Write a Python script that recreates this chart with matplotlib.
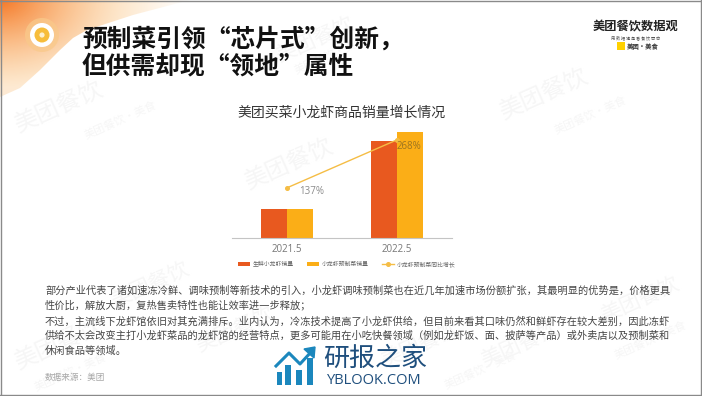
import numpy as np
import matplotlib
matplotlib.use('Agg')
import matplotlib.pyplot as plt
from matplotlib.patches import Circle, PathPatch, Rectangle
from matplotlib.path import Path

plt.rcParams['font.family'] = ['Noto Sans CJK SC', 'DejaVu Sans']
W, H = 702, 396

# ---- data ----
categories = ['2021.5', '2022.5']
fresh_sales = [29, 97]
prepared_sales = [29, 106]
yoy_growth = [137, 268]
yoy_labels = ['137%', '268%']
series_names = ['生鲜小龙虾销量', '小龙虾预制菜销量', '小龙虾预制菜同比增长']
chart_title = '美团买菜小龙虾商品销量增长情况'
title_lines = ['预制菜引领“芯片式”创新，', '但供需却现“领地”属性']
body_lines = [
    '部分产业代表了诸如速冻冷鲜、调味预制等新技术的引入，小龙虾调味预制菜也在近几年加速市场份额扩张，其最明显的优势是，价格更具',
    '性价比，解放大厨，复热售卖特性也能让效率进一步释放；',
    '不过，主流线下龙虾馆依旧对其充满排斥。业内认为，冷冻技术提高了小龙虾供给，但目前来看其口味仍然和鲜虾存在较大差别，因此冻虾',
    '供给不太会改变主打小龙虾菜品的龙虾馆的经营特点，更多可能用在小吃快餐领域（例如龙虾饭、面、披萨等产品）或外卖店以及预制菜和',
    '休闲食品等领域。',
]
source_text = '数据来源：美团'

RED, AMBER, LINE = '#e8591f', '#fbae17', '#f5bd45'

fig = plt.figure(figsize=(W / 100, H / 100), dpi=100, facecolor='white')

# ---- page layer, in pixel coordinates ----
bg = fig.add_axes([0, 0, 1, 1])
bg.set_xlim(0, W)
bg.set_ylim(H, 0)
bg.axis('off')

# corner gradient, clipped by the sweeping curve
yy, xx = np.mgrid[0:130, 0:220]
d = np.sqrt((xx / 195.0) ** 2 + ((yy + 2) / 135.0) ** 2)
a = np.clip(1 - d, 0, 1) ** 1.25
a = np.where(xx < 40, np.maximum(a, 0.26), a)
t = np.clip(d * 1.6, 0, 1)[..., None]
rgb = (1 - t) * np.array([0.96, 0.46, 0.14]) + t * np.array([0.98, 0.68, 0.32])
img = np.dstack([rgb, a])
im = bg.imshow(img, extent=(0, 220, 130, 0), aspect='auto', zorder=1)
verts = [(0, 0), (190, 0), (133, 15), (87, 30), (73, 38), (60, 50), (40, 70), (20, 88), (0, 97), (0, 0)]
clip = PathPatch(Path(verts), transform=bg.transData, fc='none', ec='none')
bg.add_patch(clip)
im.set_clip_path(clip)
bg.set_xlim(0, W)
bg.set_ylim(H, 0)

# watermarks
for x, y, s in [(60, 108, 17), (60, 345, 17), (545, 95, 17), (315, 40, 15), (290, 165, 17),
                (420, 345, 15), (520, 345, 15), (235, 330, 15), (640, 300, 15), (150, 285, 15)]:
    bg.text(x, y, '美团餐饮', fontsize=s, color='#f6f6f6', rotation=24,
            ha='center', va='center', zorder=1.5)
for x, y in [(120, 120), (590, 115), (330, 55), (480, 370), (70, 372), (650, 340)]:
    bg.text(x, y, '美团餐饮·美食', fontsize=8, color='#f6f6f6', rotation=24,
            ha='center', va='center', zorder=1.5)

# round icon
bg.add_patch(Circle((42, 35), 17, fc='#f9c98a', ec='none', alpha=0.75, zorder=2))
bg.add_patch(Circle((42, 35), 12, fc='white', ec='none', zorder=2.1))
bg.add_patch(Circle((42, 35), 7.5, fc='#f7bd3a', ec='none', zorder=2.2))
bg.add_patch(Circle((42, 35), 2.6, fc='#fdf0cf', ec='none', zorder=2.3))

# heading
for line, y in zip(title_lines, [39, 66]):
    bg.text(82, y, line, fontsize=17.8, fontweight='bold', color='#111111', va='center', ha='left', zorder=3)

# brand block
bg.text(635.5, 27, '美团餐饮数据观', fontsize=8.8, fontweight='bold', color='#222222', ha='center', va='center', zorder=3)
bg.text(636, 37.5, '用 数 据 视 角 看 餐 饮 百 态', fontsize=3, color='#555555', ha='center', va='center', zorder=3)
bg.add_patch(Rectangle((617, 42), 8, 8, fc='#ffd100', ec='none', zorder=3))
bg.text(627, 46, '美团·美食', fontsize=4.6, fontweight='bold', color='#333333', ha='left', va='center', zorder=3)

# body text
for line, y in zip(body_lines, [291, 305.5, 321, 336, 351]):
    bg.text(45, y, line, fontsize=7.35, color='#444444', ha='left', va='center', zorder=3)
bg.text(45, 377, source_text, fontsize=6.2, color='#a8a8a8', ha='left', va='center', zorder=3)

# site logo
LOGO = '#1b87bd'
for x0, x1, top in [(277, 282, 372), (285, 291, 365), (296, 302, 370), (307, 313, 358)]:
    bg.add_patch(Rectangle((x0, top), x1 - x0, 385 - top, fc=LOGO, ec='none', zorder=3))
bg.plot([276, 289, 300, 312], [366, 353, 364, 351], color=LOGO, lw=2.2, zorder=3)
bg.fill([315, 304, 314], [347, 349, 358], color=LOGO, zorder=3)
bg.text(375, 358, '研报之家', fontsize=18.7, color='#1f4f7d', ha='center', va='center', zorder=3)
bg.text(374, 380, 'YBLOOK.COM', fontsize=10.5, color='#1f4f7d', family='Open Sans', ha='center', va='center', zorder=3)

# page frame
for xs, ys in [([0, W], [0.5, 0.5]), ([0, W], [394.5, 394.5]), ([0.5, 0.5], [0, H]), ([700.5, 700.5], [0, H])]:
    bg.plot(xs, ys, color='#8a8a8a', lw=1.0, zorder=4)

# ---- chart ----
L, R, B, T = 232, 452, 238, 120
ax = fig.add_axes([L / W, 1 - B / H, (R - L) / W, (B - T) / H])
ax.patch.set_alpha(0)
x = np.arange(len(categories))
bw = 0.232
b1 = ax.bar(x - bw / 2, fresh_sales, bw, color=RED, label=series_names[0], zorder=2)
b2 = ax.bar(x + bw / 2, prepared_sales, bw, color=AMBER, label=series_names[1], zorder=2)
ax.set_xlim(-0.5, 1.5)
ax.set_ylim(0, B - T)
ax.set_yticks([])
ax.set_xticks(x, categories)
ax.tick_params(axis='x', length=0, pad=4, labelsize=7, labelcolor='#777777')
for lab in ax.get_xticklabels():
    lab.set_family('Open Sans')
for s in ['top', 'left', 'right']:
    ax.spines[s].set_visible(False)
ax.spines['bottom'].set_color('#c4c4c4')
ax.spines['bottom'].set_linewidth(0.8)

ax2 = ax.twinx()
ax2.patch.set_alpha(0)
ax2.set_ylim(0, (B - T) * 2.73)
ax2.axis('off')
l3, = ax2.plot(x, yoy_growth, color=LINE, lw=1.0, marker='o', ms=2.6, label=series_names[2], zorder=3)
offs = [(25, -4), (12, -7)]
cols = ['#8c8c8c', '#9c7420']
for xi, v, lab, o, c in zip(x, yoy_growth, yoy_labels, offs, cols):
    ax2.annotate(lab, (xi, v), xytext=o, textcoords='offset pixels', fontsize=7, family='Open Sans',
                 color=c, ha='center', va='center', zorder=5)

ax.text(0.5, (B - 113) / (B - T), chart_title, transform=ax.transAxes, fontsize=10, color='#333333',
        ha='center', va='center')

leg = ax2.legend([b1, b2, l3], series_names, loc='center', bbox_to_anchor=(347 / W, 1 - 264 / H),
                 bbox_transform=fig.transFigure, ncol=3, frameon=False, fontsize=4.2,
                 handlelength=2.0, handleheight=0.8, columnspacing=2.3, handletextpad=0.5,
                 borderpad=0, labelcolor='#666666')

fig.savefig('out.png', dpi=100)
